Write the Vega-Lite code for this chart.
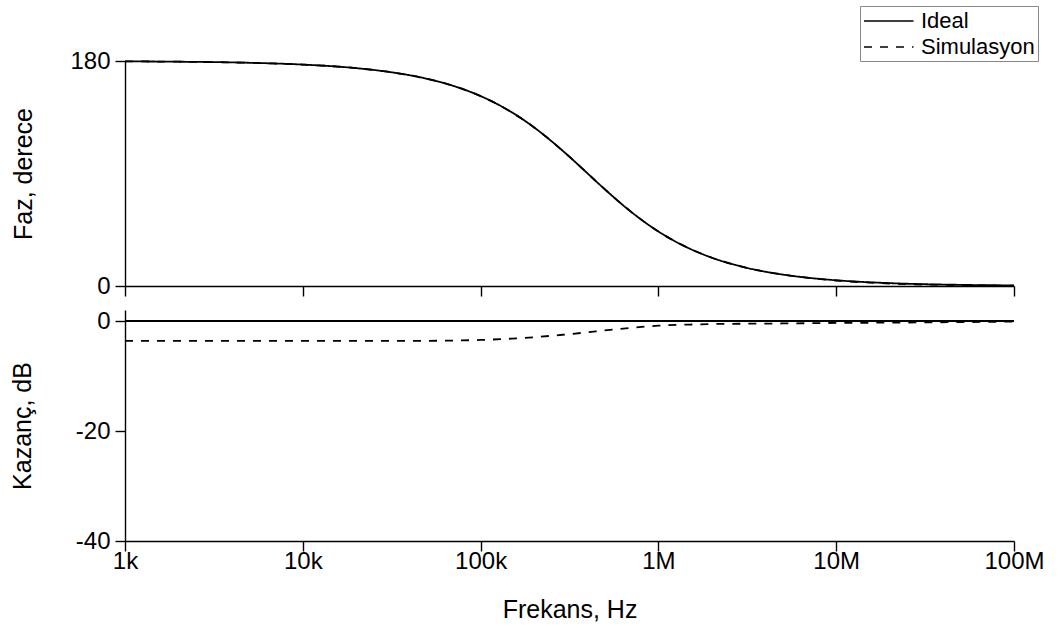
{
  "$schema": "https://vega.github.io/schema/vega-lite/v6.json",
  "background": "white",
  "padding": {"left": 10, "top": 5, "right": 5, "bottom": 5},
  "spacing": 11,
  "config": {
    "view": {"stroke": null},
    "font": "Liberation Sans",
    "axis": {
      "grid": false,
      "domainColor": "black",
      "domainWidth": 1.4,
      "tickColor": "black",
      "tickWidth": 1.4,
      "tickSize": 10,
      "labelColor": "black",
      "titleColor": "black",
      "labelFont": "Liberation Sans",
      "titleFont": "Liberation Sans",
      "labelFontSize": 24,
      "titleFontSize": 25,
      "titleFontWeight": "normal",
      "labelPadding": 5,
      "labelFlush": false
    }
  },
  "data": {
    "values": [
      {"f": 1000, "s": "Ideal", "phase": 179.71, "gain": 0},
      {"f": 2000, "s": "Ideal", "phase": 179.43, "gain": 0},
      {"f": 5000, "s": "Ideal", "phase": 178.57, "gain": 0},
      {"f": 10000, "s": "Ideal", "phase": 177.14, "gain": 0},
      {"f": 20000, "s": "Ideal", "phase": 174.28, "gain": 0},
      {"f": 30000, "s": "Ideal", "phase": 171.42, "gain": 0},
      {"f": 50000, "s": "Ideal", "phase": 165.75, "gain": 0},
      {"f": 70000, "s": "Ideal", "phase": 160.15, "gain": 0},
      {"f": 100000, "s": "Ideal", "phase": 151.93, "gain": 0},
      {"f": 150000, "s": "Ideal", "phase": 138.89, "gain": 0},
      {"f": 200000, "s": "Ideal", "phase": 126.87, "gain": 0},
      {"f": 300000, "s": "Ideal", "phase": 106.26, "gain": 0},
      {"f": 400000, "s": "Ideal", "phase": 90.0, "gain": 0},
      {"f": 500000, "s": "Ideal", "phase": 77.32, "gain": 0},
      {"f": 700000, "s": "Ideal", "phase": 59.49, "gain": 0},
      {"f": 1000000, "s": "Ideal", "phase": 43.6, "gain": 0},
      {"f": 1500000, "s": "Ideal", "phase": 29.86, "gain": 0},
      {"f": 2000000, "s": "Ideal", "phase": 22.62, "gain": 0},
      {"f": 3000000, "s": "Ideal", "phase": 15.19, "gain": 0},
      {"f": 5000000, "s": "Ideal", "phase": 9.15, "gain": 0},
      {"f": 7000000, "s": "Ideal", "phase": 6.54, "gain": 0},
      {"f": 10000000, "s": "Ideal", "phase": 4.58, "gain": 0},
      {"f": 20000000, "s": "Ideal", "phase": 2.29, "gain": 0},
      {"f": 50000000, "s": "Ideal", "phase": 0.92, "gain": 0},
      {"f": 100000000, "s": "Ideal", "phase": 0.46, "gain": 0},
      {"f": 1000, "s": "Simulasyon", "phase": 179.71, "gain": -3.6},
      {"f": 2000, "s": "Simulasyon", "phase": 179.43, "gain": -3.6},
      {"f": 5000, "s": "Simulasyon", "phase": 178.57, "gain": -3.6},
      {"f": 10000, "s": "Simulasyon", "phase": 177.14, "gain": -3.6},
      {"f": 20000, "s": "Simulasyon", "phase": 174.28, "gain": -3.6},
      {"f": 30000, "s": "Simulasyon", "phase": 171.42, "gain": -3.6},
      {"f": 50000, "s": "Simulasyon", "phase": 165.75, "gain": -3.6},
      {"f": 70000, "s": "Simulasyon", "phase": 160.15, "gain": -3.55},
      {"f": 100000, "s": "Simulasyon", "phase": 151.93, "gain": -3.45},
      {"f": 150000, "s": "Simulasyon", "phase": 138.89, "gain": -3.2},
      {"f": 200000, "s": "Simulasyon", "phase": 126.87, "gain": -2.95},
      {"f": 300000, "s": "Simulasyon", "phase": 106.26, "gain": -2.45},
      {"f": 400000, "s": "Simulasyon", "phase": 90.0, "gain": -2.05},
      {"f": 500000, "s": "Simulasyon", "phase": 77.32, "gain": -1.7},
      {"f": 700000, "s": "Simulasyon", "phase": 59.49, "gain": -1.25},
      {"f": 1000000, "s": "Simulasyon", "phase": 43.6, "gain": -0.85},
      {"f": 1500000, "s": "Simulasyon", "phase": 29.86, "gain": -0.65},
      {"f": 2000000, "s": "Simulasyon", "phase": 22.62, "gain": -0.55},
      {"f": 3000000, "s": "Simulasyon", "phase": 15.19, "gain": -0.5},
      {"f": 5000000, "s": "Simulasyon", "phase": 9.15, "gain": -0.45},
      {"f": 7000000, "s": "Simulasyon", "phase": 6.54, "gain": -0.4},
      {"f": 10000000, "s": "Simulasyon", "phase": 4.4, "gain": -0.35},
      {"f": 20000000, "s": "Simulasyon", "phase": 2.0, "gain": -0.3},
      {"f": 50000000, "s": "Simulasyon", "phase": 0.7, "gain": -0.2},
      {"f": 100000000, "s": "Simulasyon", "phase": 0.3, "gain": -0.1}
    ]
  },
  "vconcat": [
    {
      "width": 889,
      "height": 225,
      "mark": {"type": "line", "color": "black", "strokeWidth": 1.8, "interpolate": "monotone"},
      "encoding": {
        "x": {
          "field": "f", "type": "quantitative",
          "scale": {"type": "log", "domain": [1000, 100000000], "nice": false},
          "axis": {"values": [1000, 10000, 100000, 1000000, 10000000, 100000000], "labels": false, "title": null}
        },
        "y": {
          "field": "phase", "type": "quantitative",
          "scale": {"domain": [0, 180], "nice": false},
          "axis": {"values": [0, 180], "title": "Faz, derece", "titlePadding": 33}
        },
        "strokeDash": {
          "field": "s", "type": "nominal",
          "scale": {"domain": ["Ideal", "Simulasyon"], "range": [[1, 0], [8, 8]]},
          "legend": {
            "title": null,
            "orient": "none",
            "legendX": 735,
            "legendY": -55,
            "strokeColor": "#888888",
            "padding": 3,
            "symbolType": "M-1,0H3.5",
            "symbolSize": 484,
            "symbolStrokeWidth": 1.5,
            "symbolStrokeColor": "black",
            "symbolDash": null,
            "labelFont": "Liberation Sans",
            "labelFontSize": 22,
            "labelColor": "black",
            "labelOffset": 34,
            "rowPadding": 3
          }
        }
      }
    },
    {
      "width": 889,
      "height": 231,
      "mark": {"type": "line", "color": "black", "strokeWidth": 1.8, "interpolate": "monotone"},
      "encoding": {
        "x": {
          "field": "f", "type": "quantitative",
          "scale": {"type": "log", "domain": [1000, 100000000], "nice": false},
          "axis": {
            "values": [1000, 10000, 100000, 1000000, 10000000, 100000000],
            "labelExpr": "datum.value >= 1000000 ? format(datum.value / 1000000, 'd') + 'M' : format(datum.value / 1000, 'd') + 'k'",
            "labelPadding": -2,
            "title": "Frekans, Hz",
            "titlePadding": 24
          }
        },
        "y": {
          "field": "gain", "type": "quantitative",
          "scale": {"domain": [-40, 2], "nice": false},
          "axis": {
            "values": [0, -20, -40],
            "labelExpr": "datum.value == 0 ? '0' : '-' + format(abs(datum.value), 'd')",
            "title": "Kazanç, dB",
            "titlePadding": 40
          }
        },
        "strokeDash": {
          "field": "s", "type": "nominal",
          "scale": {"domain": ["Ideal", "Simulasyon"], "range": [[1, 0], [8, 8]]},
          "legend": null
        }
      }
    }
  ]
}
